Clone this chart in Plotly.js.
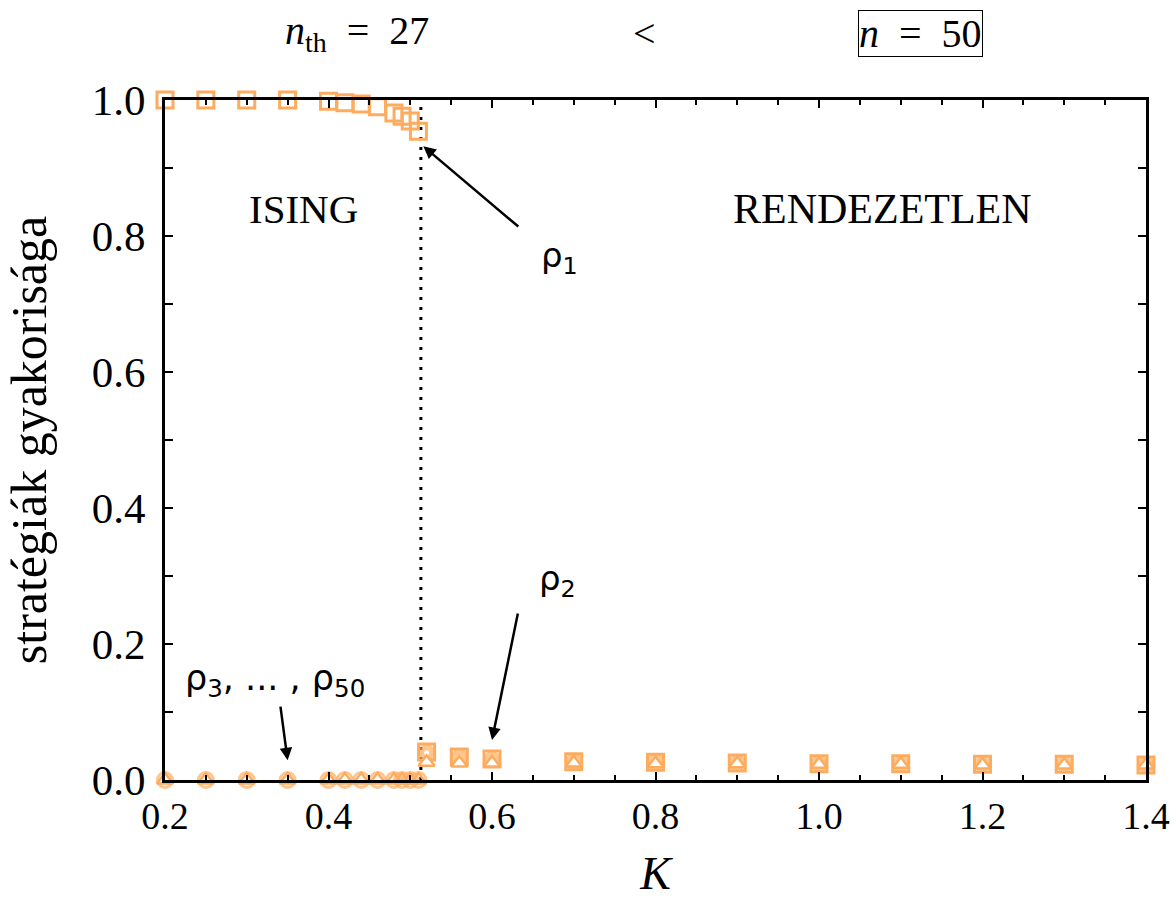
<!DOCTYPE html>
<html>
<head>
<meta charset="utf-8">
<script src="https://cdn.plot.ly/plotly-3.0.1.min.js"></script>
<style>html,body{margin:0;padding:0;background:#fff;}#chart{width:1176px;height:904px;}</style>
</head>
<body>
<div id="chart"></div>
<script>
// K values
const K = [0.2,0.25,0.3,0.35,0.4,0.42,0.44,0.46,0.48,0.49,0.50,0.51,0.52,0.56,0.6,0.7,0.8,0.9,1.0,1.1,1.2,1.3,1.4];
// rho_1 (squares): dominant strategy in ISING phase, equalised in disordered phase
const rhoSquare = [1.0,1.0,1.0,1.0,0.998,0.996,0.994,0.99,0.981,0.976,0.969,0.954,0.041,0.034,0.031,0.027,0.026,0.025,0.024,0.024,0.023,0.023,0.022];
// other strategies (circles)
const rhoCircle = [0,0,0,0,0,0,0,0,0,0,0,0,0.040,0.033,0.030,0.027,0.026,0.025,0.024,0.024,0.023,0.023,0.022];
// other strategies (triangles)
const rhoTriangle = [0,0,0,0,0,0,0,0,0,0,0,0,0.026,0.025,0.025,0.025,0.024,0.024,0.023,0.023,0.022,0.022,0.022];
const Kc = 0.513;
const xTicks = [0.2,0.4,0.6,0.8,1.0,1.2,1.4];
const xTickText = ['0.2','0.4','0.6','0.8','1.0','1.2','1.4'];
const yTicks = [0,0.2,0.4,0.6,0.8,1.0];
const yTickText = ['0.0','0.2','0.4','0.6','0.8','1.0'];

const orange = 'rgb(253,172,94)';
const serif = 'Liberation Serif, Times New Roman, serif';
const sans = 'DejaVu Sans, sans-serif';

// overlapping markers of many strategies look denser in the disordered phase
const circleLineW = K.map(k => (k > Kc ? 6 : 3));
const circleSize = K.map(k => (k > Kc ? 11 : 15));
const triFill = K.map(k => (k > Kc ? '#fff' : 'rgba(255,255,255,0)'));

const traces = [
  {x: K, y: rhoCircle, mode: 'markers', type: 'scatter', cliponaxis: false,
   marker: {symbol: 'circle-open', size: circleSize, color: orange, line: {color: orange, width: circleLineW}}},
  {x: K, y: rhoSquare, mode: 'markers', type: 'scatter', cliponaxis: false,
   marker: {symbol: 'square-open', size: 16, color: orange, line: {color: orange, width: 3}}},
  {x: K, y: rhoTriangle, mode: 'markers', type: 'scatter', cliponaxis: false,
   marker: {symbol: 'triangle-up', size: 14, color: triFill, line: {color: orange, width: 2.5}}}
];

const ann = [
  {text: 'ISING', x: 0.369, y: 0.84, xref: 'x', yref: 'y', showarrow: false, font: {family: serif, size: 41, color: '#000'}},
  {text: 'RENDEZETLEN', x: 1.078, y: 0.84, xref: 'x', yref: 'y', showarrow: false, font: {family: serif, size: 42, color: '#000'}},
  {text: 'ρ<sub>1</sub>', x: 0.683, y: 0.768, xref: 'x', yref: 'y', showarrow: false, font: {family: sans, size: 34, color: '#000'}},
  {text: '', x: 0.516, y: 0.932, ax: 0.634, ay: 0.812, xref: 'x', yref: 'y', axref: 'x', ayref: 'y', showarrow: true, arrowhead: 2, arrowsize: 1, arrowwidth: 2.5, arrowcolor: '#000'},
  {text: 'ρ<sub>2</sub>', x: 0.68, y: 0.294, xref: 'x', yref: 'y', showarrow: false, font: {family: sans, size: 34, color: '#000'}},
  {text: '', x: 0.6, y: 0.059, ax: 0.632, ay: 0.247, xref: 'x', yref: 'y', axref: 'x', ayref: 'y', showarrow: true, arrowhead: 2, arrowsize: 1, arrowwidth: 2.5, arrowcolor: '#000'},
  {text: 'ρ<sub>3</sub>, ... , ρ<sub>50</sub>', x: 0.335, y: 0.147, xref: 'x', yref: 'y', showarrow: false, font: {family: sans, size: 35, color: '#000'}},
  {text: '', x: 0.350, y: 0.029, ax: 0.341, ay: 0.110, xref: 'x', yref: 'y', axref: 'x', ayref: 'y', showarrow: true, arrowhead: 2, arrowsize: 1, arrowwidth: 2.5, arrowcolor: '#000'},
  {text: '<i>n</i><sub>th</sub>&nbsp;&nbsp;=&nbsp;&nbsp;27', x: 0.196, y: 1.0985, xref: 'paper', yref: 'paper', xanchor: 'center', yanchor: 'middle', showarrow: false, font: {family: serif, size: 40, color: '#000'}},
  {text: '<', x: 0.489, y: 1.0985, xref: 'paper', yref: 'paper', xanchor: 'center', yanchor: 'middle', showarrow: false, font: {family: serif, size: 40, color: '#000'}},
  {text: '<i>n</i>&nbsp;&nbsp;=&nbsp;&nbsp;50', x: 0.77, y: 1.0985, xref: 'paper', yref: 'paper', xanchor: 'center', yanchor: 'middle', showarrow: false, bordercolor: '#000', borderwidth: 1, borderpad: 0, font: {family: serif, size: 40, color: '#000'}}
];

const layout = {
  width: 1176, height: 904,
  margin: {l: 165, r: 30, t: 100, b: 124},
  paper_bgcolor: '#fff', plot_bgcolor: '#fff',
  showlegend: false,
  xaxis: {
    range: [0.2, 1.4], tickvals: xTicks, ticktext: xTickText,
    ticks: 'inside', ticklen: 8, tickwidth: 2, tickcolor: '#000',
    minor: {dtick: 0.05, tick0: 0.2, ticks: 'inside', ticklen: 5, tickwidth: 2, tickcolor: '#000'},
    showline: true, linewidth: 3, linecolor: '#000', mirror: 'allticks',
    showgrid: false, zeroline: false,
    tickfont: {family: serif, size: 38, color: '#000'},
    title: {text: '<i>K</i>', font: {family: serif, size: 46, color: '#000'}, standoff: 22}
  },
  yaxis: {
    range: [0, 1], tickvals: yTicks, ticktext: yTickText,
    ticks: 'inside', ticklen: 8, tickwidth: 2, tickcolor: '#000',
    minor: {dtick: 0.1, tick0: 0, ticks: 'inside', ticklen: 8, tickwidth: 2, tickcolor: '#000'},
    showline: true, linewidth: 3, linecolor: '#000', mirror: 'allticks',
    showgrid: false, zeroline: false,
    tickfont: {family: serif, size: 43, color: '#000'},
    ticklabelstandoff: 8,
    title: {text: 'stratégiák gyakorisága', font: {family: serif, size: 50, color: '#000'}, standoff: 30}
  },
  shapes: [
    {type: 'line', xref: 'x', yref: 'y', x0: Kc, x1: Kc, y0: 0, y1: 1, layer: 'below', line: {color: '#000', width: 3, dash: '3px,7px'}}
  ],
  annotations: ann
};

Plotly.newPlot('chart', traces, layout, {displayModeBar: false, staticPlot: true});
</script>
</body>
</html>
